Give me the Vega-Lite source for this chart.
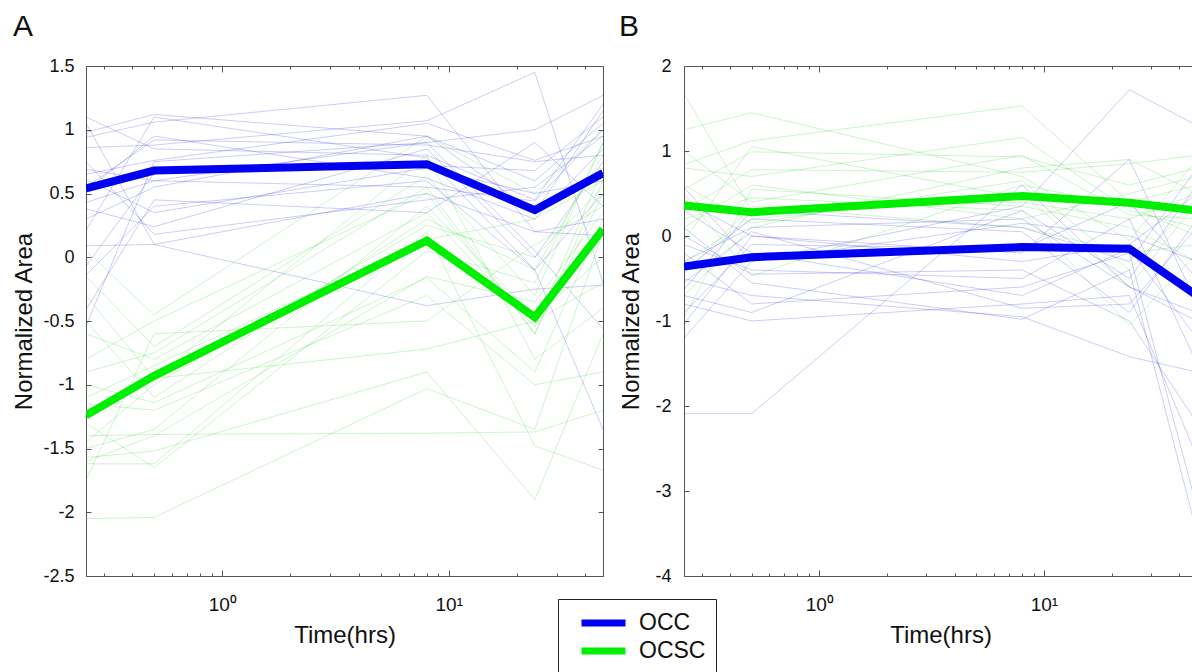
{
"$schema": "https://vega.github.io/schema/vega-lite/v6.json",
"background": "white",
"padding": {"left": 12, "top": 12, "right": 0, "bottom": 0},
"bounds": "flush",
"spacing": 81,
"resolve": {"scale": {"color": "independent"}, "legend": {"color": "independent"}},
"config": {
  "view": {"stroke": null},
  "axis": {"domainColor": "#555", "tickColor": "#555", "labelColor": "#111", "titleColor": "#111", "labelFont": "Liberation Sans", "titleFont": "Liberation Sans", "labelFontSize": 18, "titleFontSize": 24, "titleFontWeight": "normal", "grid": false, "tickWidth": 1, "domainWidth": 1},
  "title": {"font": "Liberation Sans", "fontSize": 30, "fontWeight": "normal", "anchor": "start", "color": "#111"},
  "legend": {"strokeColor": "#222", "fillColor": "white", "padding": 10, "symbolType": "stroke", "symbolStrokeWidth": 7, "symbolSize": 1936, "clipHeight": 28, "labelFontSize": 23, "labelFont": "Liberation Sans", "labelColor": "#111", "labelOffset": 10, "symbolOffset": 10, "rowPadding": 0}
},
"datasets": {
"aMean": [
{"id":"m1","g":"OCC","t":0.25,"v":0.54},{"id":"m1","g":"OCC","t":0.5,"v":0.68},{"id":"m1","g":"OCC","t":8,"v":0.73},{"id":"m1","g":"OCC","t":24,"v":0.37},{"id":"m1","g":"OCC","t":48,"v":0.66},
{"id":"m2","g":"OCSC","t":0.25,"v":-1.24},{"id":"m2","g":"OCSC","t":0.5,"v":-0.93},{"id":"m2","g":"OCSC","t":8,"v":0.13},{"id":"m2","g":"OCSC","t":24,"v":-0.47},{"id":"m2","g":"OCSC","t":48,"v":0.22}
],
"bMean": [
{"id":"m1","g":"OCC","t":0.25,"v":-0.36},{"id":"m1","g":"OCC","t":0.5,"v":-0.25},{"id":"m1","g":"OCC","t":8,"v":-0.13},{"id":"m1","g":"OCC","t":24,"v":-0.15},{"id":"m1","g":"OCC","t":48,"v":-0.70},
{"id":"m2","g":"OCSC","t":0.25,"v":0.36},{"id":"m2","g":"OCSC","t":0.5,"v":0.28},{"id":"m2","g":"OCSC","t":8,"v":0.47},{"id":"m2","g":"OCSC","t":24,"v":0.39},{"id":"m2","g":"OCSC","t":48,"v":0.30}
],
"aThin": [
{"id":"o1","s":"OCC","t":0.25,"v":1.10},{"id":"o1","s":"OCC","t":0.5,"v":0.85},{"id":"o1","s":"OCC","t":8,"v":0.80},{"id":"o1","s":"OCC","t":24,"v":0.45},{"id":"o1","s":"OCC","t":48,"v":1.20},
{"id":"o2","s":"OCC","t":0.25,"v":0.98},{"id":"o2","s":"OCC","t":0.5,"v":1.12},{"id":"o2","s":"OCC","t":8,"v":0.95},{"id":"o2","s":"OCC","t":24,"v":0.60},{"id":"o2","s":"OCC","t":48,"v":1.05},
{"id":"o3","s":"OCC","t":0.25,"v":0.94},{"id":"o3","s":"OCC","t":0.5,"v":1.06},{"id":"o3","s":"OCC","t":8,"v":1.27},{"id":"o3","s":"OCC","t":24,"v":0.20},{"id":"o3","s":"OCC","t":48,"v":0.30},
{"id":"o4","s":"OCC","t":0.25,"v":0.86},{"id":"o4","s":"OCC","t":0.5,"v":0.88},{"id":"o4","s":"OCC","t":8,"v":1.07},{"id":"o4","s":"OCC","t":24,"v":1.45},{"id":"o4","s":"OCC","t":48,"v":-0.20},
{"id":"o5","s":"OCC","t":0.25,"v":0.69},{"id":"o5","s":"OCC","t":0.5,"v":0.60},{"id":"o5","s":"OCC","t":8,"v":0.90},{"id":"o5","s":"OCC","t":24,"v":1.00},{"id":"o5","s":"OCC","t":48,"v":1.27},
{"id":"o6","s":"OCC","t":0.25,"v":0.65},{"id":"o6","s":"OCC","t":0.5,"v":0.76},{"id":"o6","s":"OCC","t":8,"v":1.05},{"id":"o6","s":"OCC","t":24,"v":0.76},{"id":"o6","s":"OCC","t":48,"v":0.95},
{"id":"o7","s":"OCC","t":0.25,"v":0.61},{"id":"o7","s":"OCC","t":0.5,"v":0.35},{"id":"o7","s":"OCC","t":8,"v":0.70},{"id":"o7","s":"OCC","t":24,"v":0.50},{"id":"o7","s":"OCC","t":48,"v":0.60},
{"id":"o8","s":"OCC","t":0.25,"v":0.52},{"id":"o8","s":"OCC","t":0.5,"v":0.95},{"id":"o8","s":"OCC","t":8,"v":0.62},{"id":"o8","s":"OCC","t":24,"v":0.30},{"id":"o8","s":"OCC","t":48,"v":0.85},
{"id":"o9","s":"OCC","t":0.25,"v":0.43},{"id":"o9","s":"OCC","t":0.5,"v":0.60},{"id":"o9","s":"OCC","t":8,"v":0.55},{"id":"o9","s":"OCC","t":24,"v":0.44},{"id":"o9","s":"OCC","t":48,"v":1.00},
{"id":"o10","s":"OCC","t":0.25,"v":0.38},{"id":"o10","s":"OCC","t":0.5,"v":0.24},{"id":"o10","s":"OCC","t":8,"v":0.85},{"id":"o10","s":"OCC","t":24,"v":0.00},{"id":"o10","s":"OCC","t":48,"v":0.75},
{"id":"o11","s":"OCC","t":0.25,"v":0.21},{"id":"o11","s":"OCC","t":0.5,"v":1.10},{"id":"o11","s":"OCC","t":8,"v":0.78},{"id":"o11","s":"OCC","t":24,"v":-0.10},{"id":"o11","s":"OCC","t":48,"v":0.50},
{"id":"o12","s":"OCC","t":0.25,"v":0.09},{"id":"o12","s":"OCC","t":0.5,"v":0.10},{"id":"o12","s":"OCC","t":8,"v":0.50},{"id":"o12","s":"OCC","t":24,"v":0.20},{"id":"o12","s":"OCC","t":48,"v":0.17},
{"id":"o13","s":"OCC","t":0.25,"v":-0.07},{"id":"o13","s":"OCC","t":0.5,"v":0.66},{"id":"o13","s":"OCC","t":8,"v":0.72},{"id":"o13","s":"OCC","t":24,"v":0.68},{"id":"o13","s":"OCC","t":48,"v":1.10},
{"id":"o14","s":"OCC","t":0.25,"v":-0.14},{"id":"o14","s":"OCC","t":0.5,"v":0.40},{"id":"o14","s":"OCC","t":8,"v":0.60},{"id":"o14","s":"OCC","t":24,"v":-0.10},{"id":"o14","s":"OCC","t":48,"v":-1.35},
{"id":"o15","s":"OCC","t":0.25,"v":-0.41},{"id":"o15","s":"OCC","t":0.5,"v":0.45},{"id":"o15","s":"OCC","t":8,"v":0.35},{"id":"o15","s":"OCC","t":24,"v":0.90},{"id":"o15","s":"OCC","t":48,"v":0.40},
{"id":"o16","s":"OCC","t":0.25,"v":-0.54},{"id":"o16","s":"OCC","t":0.5,"v":0.75},{"id":"o16","s":"OCC","t":8,"v":0.90},{"id":"o16","s":"OCC","t":24,"v":0.05},{"id":"o16","s":"OCC","t":48,"v":-0.56},
{"id":"o17","s":"OCC","t":0.25,"v":0.75},{"id":"o17","s":"OCC","t":0.5,"v":0.18},{"id":"o17","s":"OCC","t":8,"v":0.45},{"id":"o17","s":"OCC","t":24,"v":0.55},{"id":"o17","s":"OCC","t":48,"v":0.95},
{"id":"o18","s":"OCC","t":0.25,"v":1.05},{"id":"o18","s":"OCC","t":0.5,"v":0.10},{"id":"o18","s":"OCC","t":8,"v":-0.38},{"id":"o18","s":"OCC","t":24,"v":-0.25},{"id":"o18","s":"OCC","t":48,"v":-0.22},
{"id":"o19","s":"OCC","t":0.25,"v":0.55},{"id":"o19","s":"OCC","t":0.5,"v":0.92},{"id":"o19","s":"OCC","t":8,"v":0.88},{"id":"o19","s":"OCC","t":24,"v":0.75},{"id":"o19","s":"OCC","t":48,"v":0.80},
{"id":"o20","s":"OCC","t":0.25,"v":0.30},{"id":"o20","s":"OCC","t":0.5,"v":0.55},{"id":"o20","s":"OCC","t":8,"v":0.95},{"id":"o20","s":"OCC","t":24,"v":0.35},{"id":"o20","s":"OCC","t":48,"v":1.15},
{"id":"c1","s":"OCSC","t":0.25,"v":0.05},{"id":"c1","s":"OCSC","t":0.5,"v":-0.45},{"id":"c1","s":"OCSC","t":8,"v":0.95},{"id":"c1","s":"OCSC","t":24,"v":0.50},{"id":"c1","s":"OCSC","t":48,"v":1.00},
{"id":"c2","s":"OCSC","t":0.25,"v":-0.15},{"id":"c2","s":"OCSC","t":0.5,"v":-0.70},{"id":"c2","s":"OCSC","t":8,"v":0.64},{"id":"c2","s":"OCSC","t":24,"v":-0.30},{"id":"c2","s":"OCSC","t":48,"v":0.90},
{"id":"c3","s":"OCSC","t":0.25,"v":-0.50},{"id":"c3","s":"OCSC","t":0.5,"v":-1.10},{"id":"c3","s":"OCSC","t":8,"v":0.30},{"id":"c3","s":"OCSC","t":24,"v":-0.10},{"id":"c3","s":"OCSC","t":48,"v":0.80},
{"id":"c4","s":"OCSC","t":0.25,"v":-0.90},{"id":"c4","s":"OCSC","t":0.5,"v":-0.75},{"id":"c4","s":"OCSC","t":8,"v":0.55},{"id":"c4","s":"OCSC","t":24,"v":-0.60},{"id":"c4","s":"OCSC","t":48,"v":0.50},
{"id":"c5","s":"OCSC","t":0.25,"v":-1.00},{"id":"c5","s":"OCSC","t":0.5,"v":-1.14},{"id":"c5","s":"OCSC","t":8,"v":-0.16},{"id":"c5","s":"OCSC","t":24,"v":-0.90},{"id":"c5","s":"OCSC","t":48,"v":0.30},
{"id":"c6","s":"OCSC","t":0.25,"v":-1.10},{"id":"c6","s":"OCSC","t":0.5,"v":-0.85},{"id":"c6","s":"OCSC","t":8,"v":0.14},{"id":"c6","s":"OCSC","t":24,"v":0.30},{"id":"c6","s":"OCSC","t":48,"v":0.60},
{"id":"c7","s":"OCSC","t":0.25,"v":-1.20},{"id":"c7","s":"OCSC","t":0.5,"v":-0.95},{"id":"c7","s":"OCSC","t":8,"v":-0.72},{"id":"c7","s":"OCSC","t":24,"v":-0.50},{"id":"c7","s":"OCSC","t":48,"v":-0.20},
{"id":"c8","s":"OCSC","t":0.25,"v":-1.40},{"id":"c8","s":"OCSC","t":0.5,"v":-1.39},{"id":"c8","s":"OCSC","t":8,"v":-1.38},{"id":"c8","s":"OCSC","t":24,"v":-1.37},{"id":"c8","s":"OCSC","t":48,"v":-1.20},
{"id":"c9","s":"OCSC","t":0.25,"v":-1.50},{"id":"c9","s":"OCSC","t":0.5,"v":-1.35},{"id":"c9","s":"OCSC","t":8,"v":0.40},{"id":"c9","s":"OCSC","t":24,"v":-0.47},{"id":"c9","s":"OCSC","t":48,"v":0.00},
{"id":"c10","s":"OCSC","t":0.25,"v":-1.57},{"id":"c10","s":"OCSC","t":0.5,"v":-1.52},{"id":"c10","s":"OCSC","t":8,"v":-0.90},{"id":"c10","s":"OCSC","t":24,"v":-1.90},{"id":"c10","s":"OCSC","t":48,"v":-0.60},
{"id":"c11","s":"OCSC","t":0.25,"v":-1.62},{"id":"c11","s":"OCSC","t":0.5,"v":-1.62},{"id":"c11","s":"OCSC","t":8,"v":0.20},{"id":"c11","s":"OCSC","t":24,"v":-1.48},{"id":"c11","s":"OCSC","t":48,"v":-1.67},
{"id":"c12","s":"OCSC","t":0.25,"v":-1.75},{"id":"c12","s":"OCSC","t":0.5,"v":-0.60},{"id":"c12","s":"OCSC","t":8,"v":-0.50},{"id":"c12","s":"OCSC","t":24,"v":0.10},{"id":"c12","s":"OCSC","t":48,"v":0.40},
{"id":"c13","s":"OCSC","t":0.25,"v":-2.05},{"id":"c13","s":"OCSC","t":0.5,"v":-2.04},{"id":"c13","s":"OCSC","t":8,"v":-1.03},{"id":"c13","s":"OCSC","t":24,"v":-1.35},{"id":"c13","s":"OCSC","t":48,"v":0.20},
{"id":"c14","s":"OCSC","t":0.25,"v":-0.30},{"id":"c14","s":"OCSC","t":0.5,"v":-0.95},{"id":"c14","s":"OCSC","t":8,"v":0.80},{"id":"c14","s":"OCSC","t":24,"v":-0.80},{"id":"c14","s":"OCSC","t":48,"v":-0.40},
{"id":"c15","s":"OCSC","t":0.25,"v":-1.30},{"id":"c15","s":"OCSC","t":0.5,"v":-1.65},{"id":"c15","s":"OCSC","t":8,"v":0.05},{"id":"c15","s":"OCSC","t":24,"v":-0.20},{"id":"c15","s":"OCSC","t":48,"v":0.90},
{"id":"c16","s":"OCSC","t":0.25,"v":-0.80},{"id":"c16","s":"OCSC","t":0.5,"v":-0.50},{"id":"c16","s":"OCSC","t":8,"v":0.50},{"id":"c16","s":"OCSC","t":24,"v":-0.60},{"id":"c16","s":"OCSC","t":48,"v":0.60},
{"id":"c17","s":"OCSC","t":0.25,"v":-1.15},{"id":"c17","s":"OCSC","t":0.5,"v":-1.20},{"id":"c17","s":"OCSC","t":8,"v":-0.30},{"id":"c17","s":"OCSC","t":24,"v":-1.00},{"id":"c17","s":"OCSC","t":48,"v":-0.90},
{"id":"c18","s":"OCSC","t":0.25,"v":-1.45},{"id":"c18","s":"OCSC","t":0.5,"v":-1.00},{"id":"c18","s":"OCSC","t":8,"v":0.25},{"id":"c18","s":"OCSC","t":24,"v":0.00},{"id":"c18","s":"OCSC","t":48,"v":0.55},
{"id":"c19","s":"OCSC","t":0.25,"v":-1.60},{"id":"c19","s":"OCSC","t":0.5,"v":-1.40},{"id":"c19","s":"OCSC","t":8,"v":-0.15},{"id":"c19","s":"OCSC","t":24,"v":-0.35},{"id":"c19","s":"OCSC","t":48,"v":0.35},
{"id":"c20","s":"OCSC","t":0.25,"v":-0.60},{"id":"c20","s":"OCSC","t":0.5,"v":-0.80},{"id":"c20","s":"OCSC","t":8,"v":0.35},{"id":"c20","s":"OCSC","t":24,"v":-0.55},{"id":"c20","s":"OCSC","t":48,"v":0.70}
],
"bThin": [
{"id":"o1","s":"OCC","t":0.25,"v":0.57},{"id":"o1","s":"OCC","t":0.5,"v":-0.30},{"id":"o1","s":"OCC","t":8,"v":0.35},{"id":"o1","s":"OCC","t":24,"v":1.72},{"id":"o1","s":"OCC","t":48,"v":1.30},
{"id":"o2","s":"OCC","t":0.25,"v":0.41},{"id":"o2","s":"OCC","t":0.5,"v":0.00},{"id":"o2","s":"OCC","t":8,"v":-0.20},{"id":"o2","s":"OCC","t":24,"v":0.90},{"id":"o2","s":"OCC","t":48,"v":-0.80},
{"id":"o3","s":"OCC","t":0.25,"v":-0.10},{"id":"o3","s":"OCC","t":0.5,"v":-0.40},{"id":"o3","s":"OCC","t":8,"v":-0.50},{"id":"o3","s":"OCC","t":24,"v":0.20},{"id":"o3","s":"OCC","t":48,"v":-1.50},
{"id":"o4","s":"OCC","t":0.25,"v":-0.20},{"id":"o4","s":"OCC","t":0.5,"v":-0.80},{"id":"o4","s":"OCC","t":8,"v":-0.60},{"id":"o4","s":"OCC","t":24,"v":-0.20},{"id":"o4","s":"OCC","t":48,"v":-3.20},
{"id":"o5","s":"OCC","t":0.25,"v":-0.30},{"id":"o5","s":"OCC","t":0.5,"v":0.10},{"id":"o5","s":"OCC","t":8,"v":0.20},{"id":"o5","s":"OCC","t":24,"v":-0.60},{"id":"o5","s":"OCC","t":48,"v":-1.00},
{"id":"o6","s":"OCC","t":0.25,"v":-0.50},{"id":"o6","s":"OCC","t":0.5,"v":-0.70},{"id":"o6","s":"OCC","t":8,"v":-0.95},{"id":"o6","s":"OCC","t":24,"v":-1.42},{"id":"o6","s":"OCC","t":48,"v":-1.60},
{"id":"o7","s":"OCC","t":0.25,"v":-0.63},{"id":"o7","s":"OCC","t":0.5,"v":0.30},{"id":"o7","s":"OCC","t":8,"v":0.10},{"id":"o7","s":"OCC","t":24,"v":-0.30},{"id":"o7","s":"OCC","t":48,"v":0.80},
{"id":"o8","s":"OCC","t":0.25,"v":-0.80},{"id":"o8","s":"OCC","t":0.5,"v":-1.00},{"id":"o8","s":"OCC","t":8,"v":-0.80},{"id":"o8","s":"OCC","t":24,"v":-0.70},{"id":"o8","s":"OCC","t":48,"v":-2.60},
{"id":"o9","s":"OCC","t":0.25,"v":-1.04},{"id":"o9","s":"OCC","t":0.5,"v":0.00},{"id":"o9","s":"OCC","t":8,"v":-0.30},{"id":"o9","s":"OCC","t":24,"v":-0.10},{"id":"o9","s":"OCC","t":48,"v":0.50},
{"id":"o10","s":"OCC","t":0.25,"v":-2.09},{"id":"o10","s":"OCC","t":0.5,"v":-2.09},{"id":"o10","s":"OCC","t":8,"v":0.60},{"id":"o10","s":"OCC","t":24,"v":-0.60},{"id":"o10","s":"OCC","t":48,"v":-0.90},
{"id":"o11","s":"OCC","t":0.25,"v":0.10},{"id":"o11","s":"OCC","t":0.5,"v":-0.55},{"id":"o11","s":"OCC","t":8,"v":-0.98},{"id":"o11","s":"OCC","t":24,"v":-0.40},{"id":"o11","s":"OCC","t":48,"v":-3.50},
{"id":"o12","s":"OCC","t":0.25,"v":-0.40},{"id":"o12","s":"OCC","t":0.5,"v":0.20},{"id":"o12","s":"OCC","t":8,"v":0.05},{"id":"o12","s":"OCC","t":24,"v":-0.90},{"id":"o12","s":"OCC","t":48,"v":0.20},
{"id":"o13","s":"OCC","t":0.25,"v":0.30},{"id":"o13","s":"OCC","t":0.5,"v":-0.20},{"id":"o13","s":"OCC","t":8,"v":-0.70},{"id":"o13","s":"OCC","t":24,"v":-0.15},{"id":"o13","s":"OCC","t":48,"v":-1.20},
{"id":"o14","s":"OCC","t":0.25,"v":-1.20},{"id":"o14","s":"OCC","t":0.5,"v":-0.30},{"id":"o14","s":"OCC","t":8,"v":0.15},{"id":"o14","s":"OCC","t":24,"v":0.00},{"id":"o14","s":"OCC","t":48,"v":-0.30},
{"id":"o15","s":"OCC","t":0.25,"v":-0.70},{"id":"o15","s":"OCC","t":0.5,"v":-0.90},{"id":"o15","s":"OCC","t":8,"v":0.30},{"id":"o15","s":"OCC","t":24,"v":-0.50},{"id":"o15","s":"OCC","t":48,"v":0.60},
{"id":"o16","s":"OCC","t":0.25,"v":-0.90},{"id":"o16","s":"OCC","t":0.5,"v":-0.10},{"id":"o16","s":"OCC","t":8,"v":-0.15},{"id":"o16","s":"OCC","t":24,"v":0.40},{"id":"o16","s":"OCC","t":48,"v":-0.50},
{"id":"o17","s":"OCC","t":0.25,"v":0.00},{"id":"o17","s":"OCC","t":0.5,"v":-0.45},{"id":"o17","s":"OCC","t":8,"v":-0.40},{"id":"o17","s":"OCC","t":24,"v":-1.00},{"id":"o17","s":"OCC","t":48,"v":-2.20},
{"id":"o18","s":"OCC","t":0.25,"v":-0.55},{"id":"o18","s":"OCC","t":0.5,"v":0.05},{"id":"o18","s":"OCC","t":8,"v":-0.85},{"id":"o18","s":"OCC","t":24,"v":-0.80},{"id":"o18","s":"OCC","t":48,"v":0.10},
{"id":"c1","s":"OCSC","t":0.25,"v":1.68},{"id":"c1","s":"OCSC","t":0.5,"v":0.30},{"id":"c1","s":"OCSC","t":8,"v":0.40},{"id":"c1","s":"OCSC","t":24,"v":0.20},{"id":"c1","s":"OCSC","t":48,"v":0.50},
{"id":"c2","s":"OCSC","t":0.25,"v":1.25},{"id":"c2","s":"OCSC","t":0.5,"v":1.45},{"id":"c2","s":"OCSC","t":8,"v":0.70},{"id":"c2","s":"OCSC","t":24,"v":-0.05},{"id":"c2","s":"OCSC","t":48,"v":0.90},
{"id":"c3","s":"OCSC","t":0.25,"v":0.84},{"id":"c3","s":"OCSC","t":0.5,"v":1.12},{"id":"c3","s":"OCSC","t":8,"v":1.53},{"id":"c3","s":"OCSC","t":24,"v":0.40},{"id":"c3","s":"OCSC","t":48,"v":0.60},
{"id":"c4","s":"OCSC","t":0.25,"v":0.80},{"id":"c4","s":"OCSC","t":0.5,"v":0.70},{"id":"c4","s":"OCSC","t":8,"v":1.16},{"id":"c4","s":"OCSC","t":24,"v":0.30},{"id":"c4","s":"OCSC","t":48,"v":0.10},
{"id":"c5","s":"OCSC","t":0.25,"v":0.55},{"id":"c5","s":"OCSC","t":0.5,"v":0.99},{"id":"c5","s":"OCSC","t":8,"v":0.93},{"id":"c5","s":"OCSC","t":24,"v":0.60},{"id":"c5","s":"OCSC","t":48,"v":0.80},
{"id":"c6","s":"OCSC","t":0.25,"v":0.50},{"id":"c6","s":"OCSC","t":0.5,"v":-0.47},{"id":"c6","s":"OCSC","t":8,"v":0.60},{"id":"c6","s":"OCSC","t":24,"v":0.35},{"id":"c6","s":"OCSC","t":48,"v":0.00},
{"id":"c7","s":"OCSC","t":0.25,"v":0.30},{"id":"c7","s":"OCSC","t":0.5,"v":0.78},{"id":"c7","s":"OCSC","t":8,"v":0.75},{"id":"c7","s":"OCSC","t":24,"v":0.85},{"id":"c7","s":"OCSC","t":48,"v":0.95},
{"id":"c8","s":"OCSC","t":0.25,"v":0.20},{"id":"c8","s":"OCSC","t":0.5,"v":0.45},{"id":"c8","s":"OCSC","t":8,"v":0.30},{"id":"c8","s":"OCSC","t":24,"v":-1.05},{"id":"c8","s":"OCSC","t":48,"v":-0.20},
{"id":"c9","s":"OCSC","t":0.25,"v":0.10},{"id":"c9","s":"OCSC","t":0.5,"v":0.60},{"id":"c9","s":"OCSC","t":8,"v":0.20},{"id":"c9","s":"OCSC","t":24,"v":0.50},{"id":"c9","s":"OCSC","t":48,"v":0.70},
{"id":"c10","s":"OCSC","t":0.25,"v":-0.05},{"id":"c10","s":"OCSC","t":0.5,"v":1.05},{"id":"c10","s":"OCSC","t":8,"v":0.45},{"id":"c10","s":"OCSC","t":24,"v":0.40},{"id":"c10","s":"OCSC","t":48,"v":0.30},
{"id":"c11","s":"OCSC","t":0.25,"v":-0.30},{"id":"c11","s":"OCSC","t":0.5,"v":0.20},{"id":"c11","s":"OCSC","t":8,"v":0.50},{"id":"c11","s":"OCSC","t":24,"v":-0.60},{"id":"c11","s":"OCSC","t":48,"v":0.40},
{"id":"c12","s":"OCSC","t":0.25,"v":-0.45},{"id":"c12","s":"OCSC","t":0.5,"v":0.35},{"id":"c12","s":"OCSC","t":8,"v":0.10},{"id":"c12","s":"OCSC","t":24,"v":-0.20},{"id":"c12","s":"OCSC","t":48,"v":-0.10},
{"id":"c13","s":"OCSC","t":0.25,"v":-0.70},{"id":"c13","s":"OCSC","t":0.5,"v":0.10},{"id":"c13","s":"OCSC","t":8,"v":0.80},{"id":"c13","s":"OCSC","t":24,"v":0.90},{"id":"c13","s":"OCSC","t":48,"v":0.50},
{"id":"c14","s":"OCSC","t":0.25,"v":-0.96},{"id":"c14","s":"OCSC","t":0.5,"v":0.55},{"id":"c14","s":"OCSC","t":8,"v":0.35},{"id":"c14","s":"OCSC","t":24,"v":0.10},{"id":"c14","s":"OCSC","t":48,"v":-0.30},
{"id":"c15","s":"OCSC","t":0.25,"v":1.00},{"id":"c15","s":"OCSC","t":0.5,"v":0.40},{"id":"c15","s":"OCSC","t":8,"v":0.95},{"id":"c15","s":"OCSC","t":24,"v":0.25},{"id":"c15","s":"OCSC","t":48,"v":0.20},
{"id":"c16","s":"OCSC","t":0.25,"v":0.60},{"id":"c16","s":"OCSC","t":0.5,"v":0.15},{"id":"c16","s":"OCSC","t":8,"v":0.65},{"id":"c16","s":"OCSC","t":24,"v":-0.40},{"id":"c16","s":"OCSC","t":48,"v":0.45}
]
},
"hconcat": [
{
  "width": 517, "height": 510,
  "title": {"text": "A", "offset": 15},
  "resolve": {"axis": {"x": "independent", "y": "independent"}},
  "layer": [
    {
      "data": {"name": "aThin"},
      "mark": {"type": "line", "strokeWidth": 1, "strokeOpacity": 0.2, "clip": true},
      "encoding": {
        "x": {"field": "t", "type": "quantitative", "scale": {"type": "log", "domain": [0.25, 48], "nice": false},
              "axis": {"title": "Time(hrs)", "values": [0.3,0.4,0.5,0.6,0.7,0.8,0.9,1,2,3,4,5,6,7,8,9,10,20,30,40], "labelExpr": "datum.value == 1 ? '10⁰' : datum.value == 10 ? '10¹' : ''", "labelFontSize": 19, "tickSize": {"condition": {"test": "datum.value == 1 || datum.value == 10", "value": -6}, "value": -3}, "labelPadding": 25, "titlePadding": 6, "labelOverlap": false, "labelFlush": false}},
        "y": {"field": "v", "type": "quantitative", "scale": {"domain": [-2.5, 1.5], "nice": false, "zero": false},
              "axis": {"title": "Normalized Area", "values": [-2.5,-2,-1.5,-1,-0.5,0,0.5,1,1.5], "labelExpr": "'' + datum.value", "tickSize": -5, "labelPadding": 17, "titlePadding": 6, "labelOverlap": false, "labelFlush": false}},
        "stroke": {"field": "s", "type": "nominal", "scale": {"domain": ["OCC", "OCSC"], "range": ["#0000dd", "#00cc00"]}, "legend": null},
        "detail": {"field": "id", "type": "nominal"}
      }
    },
    {
      "data": {"name": "aMean"},
      "mark": {"type": "line", "strokeWidth": 8, "clip": true},
      "encoding": {
        "x": {"field": "t", "type": "quantitative", "axis": {"orient": "top", "title": null, "labels": false, "values": [0.3,0.4,0.5,0.6,0.7,0.8,0.9,1,2,3,4,5,6,7,8,9,10,20,30,40], "tickSize": {"condition": {"test": "datum.value == 1 || datum.value == 10", "value": -6}, "value": -3}}},
        "y": {"field": "v", "type": "quantitative", "axis": {"orient": "right", "title": null, "labels": false, "values": [-2.5,-2,-1.5,-1,-0.5,0,0.5,1,1.5], "tickSize": -5}},
        "color": {"field": "g", "type": "nominal", "scale": {"domain": ["OCC", "OCSC"], "range": ["#0000f0", "#00ee00"]}, "legend": {"title": null, "orient": "none", "legendX": 472, "legendY": 533, "labelExpr": "datum.label + ' '"}}
      }
    }
  ]
},
{
  "width": 513, "height": 510,
  "title": {"text": "B", "dx": -1, "offset": 15},
  "resolve": {"axis": {"x": "independent", "y": "independent"}},
  "layer": [
    {
      "data": {"name": "bThin"},
      "mark": {"type": "line", "strokeWidth": 1, "strokeOpacity": 0.2, "clip": true},
      "encoding": {
        "x": {"field": "t", "type": "quantitative", "scale": {"type": "log", "domain": [0.25, 48], "nice": false},
              "axis": {"title": "Time(hrs)", "values": [0.3,0.4,0.5,0.6,0.7,0.8,0.9,1,2,3,4,5,6,7,8,9,10,20,30,40], "labelExpr": "datum.value == 1 ? '10⁰' : datum.value == 10 ? '10¹' : ''", "labelFontSize": 19, "tickSize": {"condition": {"test": "datum.value == 1 || datum.value == 10", "value": -6}, "value": -3}, "labelPadding": 25, "titlePadding": 6, "labelOverlap": false, "labelFlush": false}},
        "y": {"field": "v", "type": "quantitative", "scale": {"domain": [-4, 2], "nice": false, "zero": false},
              "axis": {"title": "Normalized Area", "values": [-4,-3,-2,-1,0,1,2], "labelExpr": "'' + datum.value", "tickSize": -5, "labelPadding": 18, "titlePadding": 11, "labelOverlap": false, "labelFlush": false}},
        "stroke": {"field": "s", "type": "nominal", "scale": {"domain": ["OCC", "OCSC"], "range": ["#0000dd", "#00cc00"]}, "legend": null},
        "detail": {"field": "id", "type": "nominal"}
      }
    },
    {
      "data": {"name": "bMean"},
      "mark": {"type": "line", "strokeWidth": 8, "clip": true},
      "encoding": {
        "x": {"field": "t", "type": "quantitative", "axis": {"orient": "top", "title": null, "labels": false, "values": [0.3,0.4,0.5,0.6,0.7,0.8,0.9,1,2,3,4,5,6,7,8,9,10,20,30,40], "tickSize": {"condition": {"test": "datum.value == 1 || datum.value == 10", "value": -6}, "value": -3}}},
        "y": {"field": "v", "type": "quantitative", "axis": null},
        "color": {"field": "g", "type": "nominal", "scale": {"domain": ["OCC", "OCSC"], "range": ["#0000f0", "#00ee00"]}, "legend": null}
      }
    }
  ]
}
]
}
